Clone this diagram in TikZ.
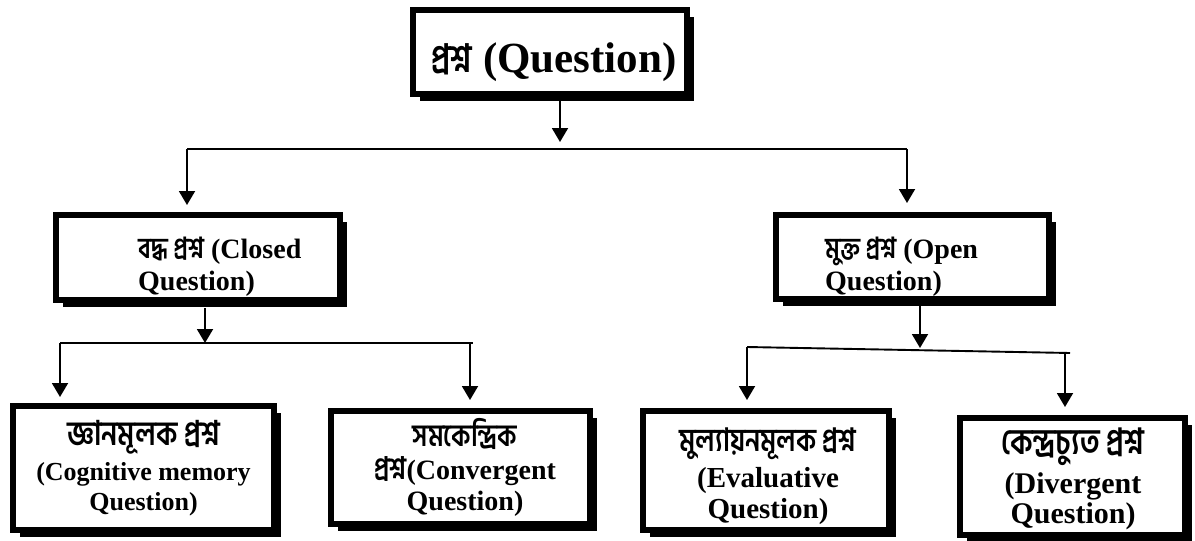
\documentclass[tikz,border=0pt]{standalone}
\usepackage{fontspec}
\setmainfont{Liberation Serif}
\newfontfamily\bn[Script=Bengali,FakeStretch=0.82,UprightFont={* SemiBold}]{Hind Siliguri}
\usetikzlibrary{arrows.meta,shadows}
\newcommand{\bnt}[2]{{\bn\mdseries\fontsize{#1}{#1}\selectfont #2}}
\tikzset{
  box/.style={draw, line width=6pt, fill=white, rectangle, inner sep=0pt,
    drop shadow={shadow xshift=7pt, shadow yshift=-7pt, opacity=1, fill=black}},
  txt/.style={inner sep=0pt, align=center},
  conn/.style={line width=1.9pt},
  arr/.style={conn, -{Triangle[width=16pt,length=14pt]}},
}
\begin{document}
\begin{tikzpicture}[x=1pt,y=-1pt]
\useasboundingbox (0,0) rectangle (1195,541);
% boxes
\node[box, minimum width=274pt, minimum height=84pt] (q) at (550,52) {};
\node[box, minimum width=284pt, minimum height=85pt] (closed) at (198,257.5) {};
\node[box, minimum width=273pt, minimum height=84pt] (open) at (912.5,257) {};
\node[box, minimum width=261pt, minimum height=124pt] (b1) at (143.5,468) {};
\node[box, minimum width=259pt, minimum height=113pt] (b2) at (460.5,467.5) {};
\node[box, minimum width=246pt, minimum height=119pt] (b3) at (766,470.5) {};
\node[box, minimum width=225pt, minimum height=117pt] (b4) at (1072.5,476.5) {};
% texts
\node[txt, font=\bfseries\fontsize{43}{48}\selectfont] (qt) at (554,62)
  {\bnt{39}{প্রশ্ন} (Question)};
\node[txt, align=left, anchor=west, font=\bfseries\fontsize{28}{32}\selectfont] (closedt) at (138,267)
  {\bnt{29}{বদ্ধ প্রশ্ন} (Closed\\Question)};
\node[txt, align=left, anchor=west, font=\bfseries\fontsize{28}{32}\selectfont] (opent) at (825,267)
  {\bnt{29}{মুক্ত প্রশ্ন} (Open\\Question)};
\node[txt, font=\bfseries\fontsize{26}{30}\selectfont] (b1t) at (143.5,468)
  {\bnt{34}{জ্ঞানমূলক প্রশ্ন}\\[5pt](Cognitive memory\\Question)};
\node[txt, font=\bfseries\fontsize{28}{31}\selectfont] (b2t) at (465,467)
  {\bnt{31}{সমকেন্দ্রিক}\\[2pt]\bnt{31}{প্রশ্ন}(Convergent\\Question)};
\node[txt, font=\bfseries\fontsize{29}{31}\selectfont] (b3t) at (768,476)
  {\bnt{32}{মুল্যায়নমূলক প্রশ্ন}\\[5pt](Evaluative\\Question)};
\node[txt, font=\bfseries\fontsize{30}{30}\selectfont] (b4t) at (1073,479)
  {\bnt{36}{কেন্দ্রচ্যুত প্রশ্ন}\\[6pt](Divergent\\Question)};
% junction coordinates
\coordinate (t0) at (560,142);
\coordinate (h1L) at (187,149);
\coordinate (h1R) at (907,149);
\coordinate (t1) at (205,343);
\coordinate (h2L) at (60,343);
\coordinate (h2R) at (473,343);
\coordinate (h2a) at (470,343);
\coordinate (t2) at (920,348);
\coordinate (h3L) at (747,347);
\coordinate (h3R) at (1070,353);
\coordinate (h3a) at (1065,352.5);
% connectors
\draw[arr] (q.south -| t0) -- (t0);
\draw[conn] (h1L) -- (h1R);
\draw[arr, shorten >=7pt] (h1L) -- (closed.north -| h1L);
\draw[arr, shorten >=9pt] (h1R) -- (open.north -| h1R);
\draw[arr] ([yshift=-5pt]closed.south -| t1) -- (t1);
\draw[conn] (h2L) -- (h2R);
\draw[arr, shorten >=6pt] (h2L) -- (b1.north -| h2L);
\draw[arr, shorten >=8pt] (h2a) -- (b2.north -| h2a);
\draw[arr] (open.south -| t2) -- (t2);
\draw[conn] (h3L) -- (h3R);
\draw[arr, shorten >=8pt] (h3L) -- (b3.north -| h3L);
\draw[arr, shorten >=8pt] (h3a) -- (b4.north -| h3a);
\end{tikzpicture}
\end{document}
